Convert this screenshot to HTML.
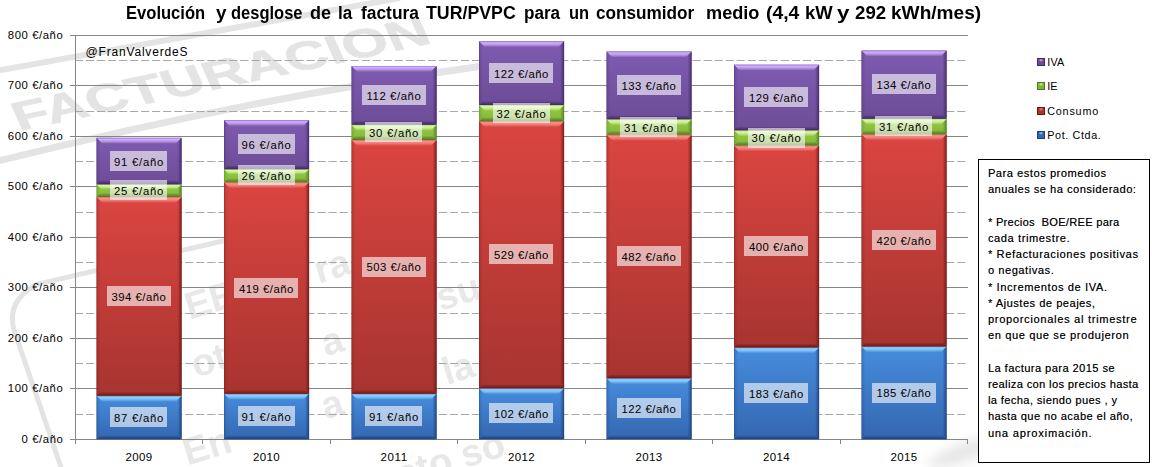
<!DOCTYPE html><html><head><meta charset="utf-8"><style>
*{margin:0;padding:0;box-sizing:border-box}
html,body{width:1152px;height:467px;overflow:hidden;background:#fff}
body{position:relative;font-family:"Liberation Sans",sans-serif;color:#000}
.a{position:absolute}
.t{position:absolute;white-space:pre;line-height:1}
.tb{text-shadow:0.3px 0 0 rgba(0,0,0,0.5)}
.lab{position:absolute;background:rgba(255,255,255,0.6);height:20px}
svg{position:absolute;left:0;top:0}
</style></head><body>
<svg width="1152" height="467" viewBox="0 0 1152 467" style="filter:blur(0.6px)">
<text x="0" y="0" textLength="424" lengthAdjust="spacingAndGlyphs" font-family="Liberation Sans" font-weight="bold" font-size="41" fill="#e4e4e4" stroke="#e4e4e4" stroke-width="0.6" transform="translate(19 131) rotate(-12) skewX(12)">FACTURACION</text>
<line x1="-10" y1="72" x2="400" y2="-2" stroke="#e4e4e4" stroke-width="6"/>
<path d="M -10 163 Q 250 98 490 65" fill="none" stroke="#e4e4e4" stroke-width="7"/>
<path d="M 62 470 L 14 330 Q 6 300 38 284 L 240 237" fill="none" stroke="#e4e4e4" stroke-width="5"/>
<text x="0" y="0" font-family="Liberation Sans" font-weight="bold" font-size="38" fill="#e8e8e8" text-anchor="middle" transform="translate(210 300) rotate(-17) translate(0 13)">EE</text>
<text x="0" y="0" font-family="Liberation Sans" font-weight="bold" font-size="38" fill="#e8e8e8" text-anchor="middle" transform="translate(209 360) rotate(-17) translate(0 13)">ot</text>
<text x="0" y="0" font-family="Liberation Sans" font-weight="bold" font-size="38" fill="#e8e8e8" text-anchor="middle" transform="translate(207 446) rotate(-17) translate(0 13)">En</text>
<text x="0" y="0" font-family="Liberation Sans" font-weight="bold" font-size="38" fill="#e8e8e8" text-anchor="middle" transform="translate(332 266) rotate(-17) translate(0 13)">ra</text>
<text x="0" y="0" font-family="Liberation Sans" font-weight="bold" font-size="38" fill="#e8e8e8" text-anchor="middle" transform="translate(332 341) rotate(-17) translate(0 13)">a</text>
<text x="0" y="0" font-family="Liberation Sans" font-weight="bold" font-size="38" fill="#e8e8e8" text-anchor="middle" transform="translate(332 404) rotate(-17) translate(0 13)">a</text>
<text x="0" y="0" font-family="Liberation Sans" font-weight="bold" font-size="38" fill="#e8e8e8" text-anchor="middle" transform="translate(440 462) rotate(-17) translate(0 13)">esto so</text>
<text x="0" y="0" font-family="Liberation Sans" font-weight="bold" font-size="38" fill="#e8e8e8" text-anchor="middle" transform="translate(458 292) rotate(-17) translate(0 13)">su</text>
<text x="0" y="0" font-family="Liberation Sans" font-weight="bold" font-size="38" fill="#e8e8e8" text-anchor="middle" transform="translate(458 368) rotate(-17) translate(0 13)">la</text>
</svg>
<svg width="1152" height="467" viewBox="0 0 1152 467" style="filter:blur(6px)"><ellipse cx="965" cy="452" rx="40" ry="9" fill="#e6e6e6" transform="rotate(-20 965 452)"/></svg>
<svg width="1152" height="467" viewBox="0 0 1152 467">
<defs>
<linearGradient id="g_blue" x1="0" y1="0" x2="0" y2="1"><stop offset="0" stop-color="#468ddd"/><stop offset="1" stop-color="#3466b0"/></linearGradient>
<linearGradient id="t_blue" x1="0" y1="0" x2="0" y2="1"><stop offset="0" stop-color="#5a9ae0" stop-opacity="1"/><stop offset="0.25" stop-color="#8ed0fc" stop-opacity="1"/><stop offset="0.55" stop-color="#8ed0fc" stop-opacity="0.75"/><stop offset="1" stop-color="#8ed0fc" stop-opacity="0"/></linearGradient>
<linearGradient id="b_blue" x1="0" y1="0" x2="0" y2="1"><stop offset="0" stop-color="#1e3f78" stop-opacity="0.0"/><stop offset="0.4" stop-color="#1e3f78" stop-opacity="0.45"/><stop offset="1" stop-color="#1e3f78" stop-opacity="1"/></linearGradient>
<linearGradient id="l_blue" x1="0" y1="0" x2="1" y2="0"><stop offset="0" stop-color="#1e3f78" stop-opacity="0.55"/><stop offset="0.3" stop-color="#1e3f78" stop-opacity="0.2"/><stop offset="1" stop-color="#1e3f78" stop-opacity="0.0"/></linearGradient>
<linearGradient id="r_blue" x1="1" y1="0" x2="0" y2="0"><stop offset="0" stop-color="#1e3f78" stop-opacity="0.95"/><stop offset="0.4" stop-color="#1e3f78" stop-opacity="0.5"/><stop offset="1" stop-color="#1e3f78" stop-opacity="0.0"/></linearGradient>
<linearGradient id="g_red" x1="0" y1="0" x2="0" y2="1"><stop offset="0" stop-color="#db4541"/><stop offset="1" stop-color="#a7342f"/></linearGradient>
<linearGradient id="t_red" x1="0" y1="0" x2="0" y2="1"><stop offset="0" stop-color="#e06060" stop-opacity="1"/><stop offset="0.25" stop-color="#f7908a" stop-opacity="1"/><stop offset="0.55" stop-color="#f7908a" stop-opacity="0.75"/><stop offset="1" stop-color="#f7908a" stop-opacity="0"/></linearGradient>
<linearGradient id="b_red" x1="0" y1="0" x2="0" y2="1"><stop offset="0" stop-color="#6e1818" stop-opacity="0.0"/><stop offset="0.4" stop-color="#6e1818" stop-opacity="0.45"/><stop offset="1" stop-color="#6e1818" stop-opacity="1"/></linearGradient>
<linearGradient id="l_red" x1="0" y1="0" x2="1" y2="0"><stop offset="0" stop-color="#6e1818" stop-opacity="0.55"/><stop offset="0.3" stop-color="#6e1818" stop-opacity="0.2"/><stop offset="1" stop-color="#6e1818" stop-opacity="0.0"/></linearGradient>
<linearGradient id="r_red" x1="1" y1="0" x2="0" y2="0"><stop offset="0" stop-color="#6e1818" stop-opacity="0.95"/><stop offset="0.4" stop-color="#6e1818" stop-opacity="0.5"/><stop offset="1" stop-color="#6e1818" stop-opacity="0.0"/></linearGradient>
<linearGradient id="g_green" x1="0" y1="0" x2="0" y2="1"><stop offset="0" stop-color="#98cc48"/><stop offset="1" stop-color="#84b43c"/></linearGradient>
<linearGradient id="t_green" x1="0" y1="0" x2="0" y2="1"><stop offset="0" stop-color="#a8d060" stop-opacity="1"/><stop offset="0.25" stop-color="#d8f8a0" stop-opacity="1"/><stop offset="0.55" stop-color="#d8f8a0" stop-opacity="0.75"/><stop offset="1" stop-color="#d8f8a0" stop-opacity="0"/></linearGradient>
<linearGradient id="b_green" x1="0" y1="0" x2="0" y2="1"><stop offset="0" stop-color="#4f7a1e" stop-opacity="0.0"/><stop offset="0.4" stop-color="#4f7a1e" stop-opacity="0.45"/><stop offset="1" stop-color="#4f7a1e" stop-opacity="1"/></linearGradient>
<linearGradient id="l_green" x1="0" y1="0" x2="1" y2="0"><stop offset="0" stop-color="#4f7a1e" stop-opacity="0.55"/><stop offset="0.3" stop-color="#4f7a1e" stop-opacity="0.2"/><stop offset="1" stop-color="#4f7a1e" stop-opacity="0.0"/></linearGradient>
<linearGradient id="r_green" x1="1" y1="0" x2="0" y2="0"><stop offset="0" stop-color="#4f7a1e" stop-opacity="0.95"/><stop offset="0.4" stop-color="#4f7a1e" stop-opacity="0.5"/><stop offset="1" stop-color="#4f7a1e" stop-opacity="0.0"/></linearGradient>
<linearGradient id="g_purple" x1="0" y1="0" x2="0" y2="1"><stop offset="0" stop-color="#7e5bb0"/><stop offset="1" stop-color="#6d4c97"/></linearGradient>
<linearGradient id="t_purple" x1="0" y1="0" x2="0" y2="1"><stop offset="0" stop-color="#9a7cc8" stop-opacity="1"/><stop offset="0.25" stop-color="#d0aefc" stop-opacity="1"/><stop offset="0.55" stop-color="#d0aefc" stop-opacity="0.75"/><stop offset="1" stop-color="#d0aefc" stop-opacity="0"/></linearGradient>
<linearGradient id="b_purple" x1="0" y1="0" x2="0" y2="1"><stop offset="0" stop-color="#3e2868" stop-opacity="0.0"/><stop offset="0.4" stop-color="#3e2868" stop-opacity="0.45"/><stop offset="1" stop-color="#3e2868" stop-opacity="1"/></linearGradient>
<linearGradient id="l_purple" x1="0" y1="0" x2="1" y2="0"><stop offset="0" stop-color="#3e2868" stop-opacity="0.55"/><stop offset="0.3" stop-color="#3e2868" stop-opacity="0.2"/><stop offset="1" stop-color="#3e2868" stop-opacity="0.0"/></linearGradient>
<linearGradient id="r_purple" x1="1" y1="0" x2="0" y2="0"><stop offset="0" stop-color="#3e2868" stop-opacity="0.95"/><stop offset="0.4" stop-color="#3e2868" stop-opacity="0.5"/><stop offset="1" stop-color="#3e2868" stop-opacity="0.0"/></linearGradient>
</defs>
<line x1="70" y1="439.5" x2="968" y2="439.5" stroke="#868686" stroke-width="1"/>
<line x1="70" y1="388.5" x2="968" y2="388.5" stroke="#868686" stroke-width="1"/>
<line x1="70" y1="338.5" x2="968" y2="338.5" stroke="#868686" stroke-width="1"/>
<line x1="70" y1="287.5" x2="968" y2="287.5" stroke="#868686" stroke-width="1"/>
<line x1="70" y1="237.5" x2="968" y2="237.5" stroke="#868686" stroke-width="1"/>
<line x1="70" y1="186.5" x2="968" y2="186.5" stroke="#868686" stroke-width="1"/>
<line x1="70" y1="136.5" x2="968" y2="136.5" stroke="#868686" stroke-width="1"/>
<line x1="70" y1="85.5" x2="968" y2="85.5" stroke="#868686" stroke-width="1"/>
<line x1="70" y1="35.5" x2="968" y2="35.5" stroke="#868686" stroke-width="1"/>
<line x1="76" y1="414.5" x2="968" y2="414.5" stroke="#a8a8a8" stroke-width="1" stroke-dasharray="8.2 2.83" stroke-dashoffset="1.13"/>
<line x1="76" y1="363.5" x2="968" y2="363.5" stroke="#a8a8a8" stroke-width="1" stroke-dasharray="8.2 2.83" stroke-dashoffset="1.13"/>
<line x1="76" y1="313.5" x2="968" y2="313.5" stroke="#a8a8a8" stroke-width="1" stroke-dasharray="8.2 2.83" stroke-dashoffset="1.13"/>
<line x1="76" y1="262.5" x2="968" y2="262.5" stroke="#a8a8a8" stroke-width="1" stroke-dasharray="8.2 2.83" stroke-dashoffset="1.13"/>
<line x1="76" y1="212.5" x2="968" y2="212.5" stroke="#a8a8a8" stroke-width="1" stroke-dasharray="8.2 2.83" stroke-dashoffset="1.13"/>
<line x1="76" y1="161.5" x2="968" y2="161.5" stroke="#a8a8a8" stroke-width="1" stroke-dasharray="8.2 2.83" stroke-dashoffset="1.13"/>
<line x1="76" y1="111.5" x2="968" y2="111.5" stroke="#a8a8a8" stroke-width="1" stroke-dasharray="8.2 2.83" stroke-dashoffset="1.13"/>
<line x1="76" y1="60.5" x2="968" y2="60.5" stroke="#a8a8a8" stroke-width="1" stroke-dasharray="8.2 2.83" stroke-dashoffset="1.13"/>
<line x1="75.5" y1="35" x2="75.5" y2="444" stroke="#868686" stroke-width="1"/>
<line x1="75.5" y1="439" x2="75.5" y2="444" stroke="#868686" stroke-width="1"/>
<line x1="202.5" y1="439" x2="202.5" y2="444" stroke="#868686" stroke-width="1"/>
<line x1="330.5" y1="439" x2="330.5" y2="444" stroke="#868686" stroke-width="1"/>
<line x1="457.5" y1="439" x2="457.5" y2="444" stroke="#868686" stroke-width="1"/>
<line x1="585.5" y1="439" x2="585.5" y2="444" stroke="#868686" stroke-width="1"/>
<line x1="712.5" y1="439" x2="712.5" y2="444" stroke="#868686" stroke-width="1"/>
<line x1="840.5" y1="439" x2="840.5" y2="444" stroke="#868686" stroke-width="1"/>
<line x1="967.5" y1="439" x2="967.5" y2="444" stroke="#868686" stroke-width="1"/>
<rect x="96.50" y="395.87" width="85.1" height="43.43" fill="url(#g_blue)"/>
<polygon points="96.50,395.87 181.60,395.87 175.60,401.87 102.50,401.87" fill="url(#t_blue)"/>
<polygon points="96.50,439.30 181.60,439.30 177.60,435.30 100.50,435.30" fill="url(#b_blue)"/>
<polygon points="96.50,395.87 100.50,399.87 100.50,435.30 96.50,439.30" fill="url(#l_blue)"/>
<polygon points="181.60,395.87 177.60,399.87 177.60,435.30 181.60,439.30" fill="url(#r_blue)"/>
<rect x="96.50" y="196.94" width="85.1" height="198.93" fill="url(#g_red)"/>
<polygon points="96.50,196.94 181.60,196.94 175.60,202.94 102.50,202.94" fill="url(#t_red)"/>
<polygon points="96.50,395.87 181.60,395.87 177.60,391.87 100.50,391.87" fill="url(#b_red)"/>
<polygon points="96.50,196.94 100.50,200.94 100.50,391.87 96.50,395.87" fill="url(#l_red)"/>
<polygon points="181.60,196.94 177.60,200.94 177.60,391.87 181.60,395.87" fill="url(#r_red)"/>
<rect x="96.50" y="184.32" width="85.1" height="12.62" fill="url(#g_green)"/>
<polygon points="96.50,184.32 181.60,184.32 176.55,189.37 101.55,189.37" fill="url(#t_green)"/>
<polygon points="96.50,196.94 181.60,196.94 177.60,192.94 100.50,192.94" fill="url(#b_green)"/>
<polygon points="96.50,184.32 100.50,188.32 100.50,192.94 96.50,196.94" fill="url(#l_green)"/>
<polygon points="181.60,184.32 177.60,188.32 177.60,192.94 181.60,196.94" fill="url(#r_green)"/>
<rect x="96.50" y="137.87" width="85.1" height="46.45" fill="url(#g_purple)"/>
<polygon points="96.50,137.87 181.60,137.87 175.60,143.87 102.50,143.87" fill="url(#t_purple)"/>
<polygon points="96.50,184.32 181.60,184.32 177.60,180.32 100.50,180.32" fill="url(#b_purple)"/>
<polygon points="96.50,137.87 100.50,141.87 100.50,180.32 96.50,184.32" fill="url(#l_purple)"/>
<polygon points="181.60,137.87 177.60,141.87 177.60,180.32 181.60,184.32" fill="url(#r_purple)"/>
<rect x="224.00" y="393.85" width="85.1" height="45.45" fill="url(#g_blue)"/>
<polygon points="224.00,393.85 309.10,393.85 303.10,399.85 230.00,399.85" fill="url(#t_blue)"/>
<polygon points="224.00,439.30 309.10,439.30 305.10,435.30 228.00,435.30" fill="url(#b_blue)"/>
<polygon points="224.00,393.85 228.00,397.85 228.00,435.30 224.00,439.30" fill="url(#l_blue)"/>
<polygon points="309.10,393.85 305.10,397.85 305.10,435.30 309.10,439.30" fill="url(#r_blue)"/>
<rect x="224.00" y="182.30" width="85.1" height="211.55" fill="url(#g_red)"/>
<polygon points="224.00,182.30 309.10,182.30 303.10,188.30 230.00,188.30" fill="url(#t_red)"/>
<polygon points="224.00,393.85 309.10,393.85 305.10,389.85 228.00,389.85" fill="url(#b_red)"/>
<polygon points="224.00,182.30 228.00,186.30 228.00,389.85 224.00,393.85" fill="url(#l_red)"/>
<polygon points="309.10,182.30 305.10,186.30 305.10,389.85 309.10,393.85" fill="url(#r_red)"/>
<rect x="224.00" y="169.17" width="85.1" height="13.13" fill="url(#g_green)"/>
<polygon points="224.00,169.17 309.10,169.17 303.85,174.42 229.25,174.42" fill="url(#t_green)"/>
<polygon points="224.00,182.30 309.10,182.30 305.10,178.30 228.00,178.30" fill="url(#b_green)"/>
<polygon points="224.00,169.17 228.00,173.17 228.00,178.30 224.00,182.30" fill="url(#l_green)"/>
<polygon points="309.10,169.17 305.10,173.17 305.10,178.30 309.10,182.30" fill="url(#r_green)"/>
<rect x="224.00" y="120.20" width="85.1" height="48.97" fill="url(#g_purple)"/>
<polygon points="224.00,120.20 309.10,120.20 303.10,126.20 230.00,126.20" fill="url(#t_purple)"/>
<polygon points="224.00,169.17 309.10,169.17 305.10,165.17 228.00,165.17" fill="url(#b_purple)"/>
<polygon points="224.00,120.20 228.00,124.20 228.00,165.17 224.00,169.17" fill="url(#l_purple)"/>
<polygon points="309.10,120.20 305.10,124.20 305.10,165.17 309.10,169.17" fill="url(#r_purple)"/>
<rect x="351.50" y="393.85" width="85.1" height="45.45" fill="url(#g_blue)"/>
<polygon points="351.50,393.85 436.60,393.85 430.60,399.85 357.50,399.85" fill="url(#t_blue)"/>
<polygon points="351.50,439.30 436.60,439.30 432.60,435.30 355.50,435.30" fill="url(#b_blue)"/>
<polygon points="351.50,393.85 355.50,397.85 355.50,435.30 351.50,439.30" fill="url(#l_blue)"/>
<polygon points="436.60,393.85 432.60,397.85 432.60,435.30 436.60,439.30" fill="url(#r_blue)"/>
<rect x="351.50" y="139.89" width="85.1" height="253.96" fill="url(#g_red)"/>
<polygon points="351.50,139.89 436.60,139.89 430.60,145.89 357.50,145.89" fill="url(#t_red)"/>
<polygon points="351.50,393.85 436.60,393.85 432.60,389.85 355.50,389.85" fill="url(#b_red)"/>
<polygon points="351.50,139.89 355.50,143.89 355.50,389.85 351.50,393.85" fill="url(#l_red)"/>
<polygon points="436.60,139.89 432.60,143.89 432.60,389.85 436.60,393.85" fill="url(#r_red)"/>
<rect x="351.50" y="124.74" width="85.1" height="15.15" fill="url(#g_green)"/>
<polygon points="351.50,124.74 436.60,124.74 430.60,130.74 357.50,130.74" fill="url(#t_green)"/>
<polygon points="351.50,139.89 436.60,139.89 432.60,135.89 355.50,135.89" fill="url(#b_green)"/>
<polygon points="351.50,124.74 355.50,128.74 355.50,135.89 351.50,139.89" fill="url(#l_green)"/>
<polygon points="436.60,124.74 432.60,128.74 432.60,135.89 436.60,139.89" fill="url(#r_green)"/>
<rect x="351.50" y="66.00" width="85.1" height="58.74" fill="url(#g_purple)"/>
<polygon points="351.50,66.00 436.60,66.00 430.60,72.00 357.50,72.00" fill="url(#t_purple)"/>
<polygon points="351.50,124.74 436.60,124.74 432.60,120.74 355.50,120.74" fill="url(#b_purple)"/>
<polygon points="351.50,66.00 355.50,70.00 355.50,120.74 351.50,124.74" fill="url(#l_purple)"/>
<polygon points="436.60,66.00 432.60,70.00 432.60,120.74 436.60,124.74" fill="url(#r_purple)"/>
<rect x="479.00" y="388.30" width="85.1" height="51.00" fill="url(#g_blue)"/>
<polygon points="479.00,388.30 564.10,388.30 558.10,394.30 485.00,394.30" fill="url(#t_blue)"/>
<polygon points="479.00,439.30 564.10,439.30 560.10,435.30 483.00,435.30" fill="url(#b_blue)"/>
<polygon points="479.00,388.30 483.00,392.30 483.00,435.30 479.00,439.30" fill="url(#l_blue)"/>
<polygon points="564.10,388.30 560.10,392.30 560.10,435.30 564.10,439.30" fill="url(#r_blue)"/>
<rect x="479.00" y="121.21" width="85.1" height="267.09" fill="url(#g_red)"/>
<polygon points="479.00,121.21 564.10,121.21 558.10,127.21 485.00,127.21" fill="url(#t_red)"/>
<polygon points="479.00,388.30 564.10,388.30 560.10,384.30 483.00,384.30" fill="url(#b_red)"/>
<polygon points="479.00,121.21 483.00,125.21 483.00,384.30 479.00,388.30" fill="url(#l_red)"/>
<polygon points="564.10,121.21 560.10,125.21 560.10,384.30 564.10,388.30" fill="url(#r_red)"/>
<rect x="479.00" y="105.05" width="85.1" height="16.16" fill="url(#g_green)"/>
<polygon points="479.00,105.05 564.10,105.05 558.10,111.05 485.00,111.05" fill="url(#t_green)"/>
<polygon points="479.00,121.21 564.10,121.21 560.10,117.21 483.00,117.21" fill="url(#b_green)"/>
<polygon points="479.00,105.05 483.00,109.05 483.00,117.21 479.00,121.21" fill="url(#l_green)"/>
<polygon points="564.10,105.05 560.10,109.05 560.10,117.21 564.10,121.21" fill="url(#r_green)"/>
<rect x="479.00" y="41.30" width="85.1" height="63.75" fill="url(#g_purple)"/>
<polygon points="479.00,41.30 564.10,41.30 558.10,47.30 485.00,47.30" fill="url(#t_purple)"/>
<polygon points="479.00,105.05 564.10,105.05 560.10,101.05 483.00,101.05" fill="url(#b_purple)"/>
<polygon points="479.00,41.30 483.00,45.30 483.00,101.05 479.00,105.05" fill="url(#l_purple)"/>
<polygon points="564.10,41.30 560.10,45.30 560.10,101.05 564.10,105.05" fill="url(#r_purple)"/>
<rect x="606.50" y="378.20" width="85.1" height="61.10" fill="url(#g_blue)"/>
<polygon points="606.50,378.20 691.60,378.20 685.60,384.20 612.50,384.20" fill="url(#t_blue)"/>
<polygon points="606.50,439.30 691.60,439.30 687.60,435.30 610.50,435.30" fill="url(#b_blue)"/>
<polygon points="606.50,378.20 610.50,382.20 610.50,435.30 606.50,439.30" fill="url(#l_blue)"/>
<polygon points="691.60,378.20 687.60,382.20 687.60,435.30 691.60,439.30" fill="url(#r_blue)"/>
<rect x="606.50" y="134.84" width="85.1" height="243.36" fill="url(#g_red)"/>
<polygon points="606.50,134.84 691.60,134.84 685.60,140.84 612.50,140.84" fill="url(#t_red)"/>
<polygon points="606.50,378.20 691.60,378.20 687.60,374.20 610.50,374.20" fill="url(#b_red)"/>
<polygon points="606.50,134.84 610.50,138.84 610.50,374.20 606.50,378.20" fill="url(#l_red)"/>
<polygon points="691.60,134.84 687.60,138.84 687.60,374.20 691.60,378.20" fill="url(#r_red)"/>
<rect x="606.50" y="119.19" width="85.1" height="15.65" fill="url(#g_green)"/>
<polygon points="606.50,119.19 691.60,119.19 685.60,125.19 612.50,125.19" fill="url(#t_green)"/>
<polygon points="606.50,134.84 691.60,134.84 687.60,130.84 610.50,130.84" fill="url(#b_green)"/>
<polygon points="606.50,119.19 610.50,123.19 610.50,130.84 606.50,134.84" fill="url(#l_green)"/>
<polygon points="691.60,119.19 687.60,123.19 687.60,130.84 691.60,134.84" fill="url(#r_green)"/>
<rect x="606.50" y="51.54" width="85.1" height="67.65" fill="url(#g_purple)"/>
<polygon points="606.50,51.54 691.60,51.54 685.60,57.54 612.50,57.54" fill="url(#t_purple)"/>
<polygon points="606.50,119.19 691.60,119.19 687.60,115.19 610.50,115.19" fill="url(#b_purple)"/>
<polygon points="606.50,51.54 610.50,55.54 610.50,115.19 606.50,119.19" fill="url(#l_purple)"/>
<polygon points="691.60,51.54 687.60,55.54 687.60,115.19 691.60,119.19" fill="url(#r_purple)"/>
<rect x="734.00" y="347.40" width="85.1" height="91.90" fill="url(#g_blue)"/>
<polygon points="734.00,347.40 819.10,347.40 813.10,353.40 740.00,353.40" fill="url(#t_blue)"/>
<polygon points="734.00,439.30 819.10,439.30 815.10,435.30 738.00,435.30" fill="url(#b_blue)"/>
<polygon points="734.00,347.40 738.00,351.40 738.00,435.30 734.00,439.30" fill="url(#l_blue)"/>
<polygon points="819.10,347.40 815.10,351.40 815.10,435.30 819.10,439.30" fill="url(#r_blue)"/>
<rect x="734.00" y="145.44" width="85.1" height="201.96" fill="url(#g_red)"/>
<polygon points="734.00,145.44 819.10,145.44 813.10,151.44 740.00,151.44" fill="url(#t_red)"/>
<polygon points="734.00,347.40 819.10,347.40 815.10,343.40 738.00,343.40" fill="url(#b_red)"/>
<polygon points="734.00,145.44 738.00,149.44 738.00,343.40 734.00,347.40" fill="url(#l_red)"/>
<polygon points="819.10,145.44 815.10,149.44 815.10,343.40 819.10,347.40" fill="url(#r_red)"/>
<rect x="734.00" y="130.30" width="85.1" height="15.15" fill="url(#g_green)"/>
<polygon points="734.00,130.30 819.10,130.30 813.10,136.30 740.00,136.30" fill="url(#t_green)"/>
<polygon points="734.00,145.44 819.10,145.44 815.10,141.44 738.00,141.44" fill="url(#b_green)"/>
<polygon points="734.00,130.30 738.00,134.30 738.00,141.44 734.00,145.44" fill="url(#l_green)"/>
<polygon points="819.10,130.30 815.10,134.30 815.10,141.44 819.10,145.44" fill="url(#r_green)"/>
<rect x="734.00" y="64.66" width="85.1" height="65.63" fill="url(#g_purple)"/>
<polygon points="734.00,64.66 819.10,64.66 813.10,70.66 740.00,70.66" fill="url(#t_purple)"/>
<polygon points="734.00,130.30 819.10,130.30 815.10,126.30 738.00,126.30" fill="url(#b_purple)"/>
<polygon points="734.00,64.66 738.00,68.66 738.00,126.30 734.00,130.30" fill="url(#l_purple)"/>
<polygon points="819.10,64.66 815.10,68.66 815.10,126.30 819.10,130.30" fill="url(#r_purple)"/>
<rect x="861.50" y="346.39" width="85.1" height="92.91" fill="url(#g_blue)"/>
<polygon points="861.50,346.39 946.60,346.39 940.60,352.39 867.50,352.39" fill="url(#t_blue)"/>
<polygon points="861.50,439.30 946.60,439.30 942.60,435.30 865.50,435.30" fill="url(#b_blue)"/>
<polygon points="861.50,346.39 865.50,350.39 865.50,435.30 861.50,439.30" fill="url(#l_blue)"/>
<polygon points="946.60,346.39 942.60,350.39 942.60,435.30 946.60,439.30" fill="url(#r_blue)"/>
<rect x="861.50" y="134.34" width="85.1" height="212.06" fill="url(#g_red)"/>
<polygon points="861.50,134.34 946.60,134.34 940.60,140.34 867.50,140.34" fill="url(#t_red)"/>
<polygon points="861.50,346.39 946.60,346.39 942.60,342.39 865.50,342.39" fill="url(#b_red)"/>
<polygon points="861.50,134.34 865.50,138.34 865.50,342.39 861.50,346.39" fill="url(#l_red)"/>
<polygon points="946.60,134.34 942.60,138.34 942.60,342.39 946.60,346.39" fill="url(#r_red)"/>
<rect x="861.50" y="118.68" width="85.1" height="15.65" fill="url(#g_green)"/>
<polygon points="861.50,118.68 946.60,118.68 940.60,124.68 867.50,124.68" fill="url(#t_green)"/>
<polygon points="861.50,134.34 946.60,134.34 942.60,130.34 865.50,130.34" fill="url(#b_green)"/>
<polygon points="861.50,118.68 865.50,122.68 865.50,130.34 861.50,134.34" fill="url(#l_green)"/>
<polygon points="946.60,118.68 942.60,122.68 942.60,130.34 946.60,134.34" fill="url(#r_green)"/>
<rect x="861.50" y="50.53" width="85.1" height="68.16" fill="url(#g_purple)"/>
<polygon points="861.50,50.53 946.60,50.53 940.60,56.53 867.50,56.53" fill="url(#t_purple)"/>
<polygon points="861.50,118.68 946.60,118.68 942.60,114.68 865.50,114.68" fill="url(#b_purple)"/>
<polygon points="861.50,50.53 865.50,54.53 865.50,114.68 861.50,118.68" fill="url(#l_purple)"/>
<polygon points="946.60,50.53 942.60,54.53 942.60,114.68 946.60,118.68" fill="url(#r_purple)"/>
</svg>
<div class="lab" style="left:110.15px;top:407.24px;width:57px"></div>
<div class="t" style="left:114.05px;top:412.70px;font-size:11.3px;letter-spacing:0.745px;">87 €/año</div>
<div class="lab" style="left:106.65px;top:286.06px;width:64px"></div>
<div class="t" style="left:111.50px;top:291.70px;font-size:11.3px;letter-spacing:0.504px;">394 €/año</div>
<div class="lab" style="left:110.15px;top:180.28px;width:57px"></div>
<div class="t" style="left:114.05px;top:185.70px;font-size:11.3px;letter-spacing:0.745px;">25 €/año</div>
<div class="lab" style="left:110.15px;top:150.75px;width:57px"></div>
<div class="t" style="left:114.05px;top:156.70px;font-size:11.3px;letter-spacing:0.745px;">91 €/año</div>
<div class="lab" style="left:237.65px;top:406.23px;width:57px"></div>
<div class="t" style="left:241.55px;top:411.70px;font-size:11.3px;letter-spacing:0.745px;">91 €/año</div>
<div class="lab" style="left:234.15px;top:277.73px;width:64px"></div>
<div class="t" style="left:239.00px;top:283.70px;font-size:11.3px;letter-spacing:0.504px;">419 €/año</div>
<div class="lab" style="left:237.65px;top:165.39px;width:57px"></div>
<div class="t" style="left:241.55px;top:170.70px;font-size:11.3px;letter-spacing:0.745px;">26 €/año</div>
<div class="lab" style="left:237.65px;top:134.34px;width:57px"></div>
<div class="t" style="left:241.55px;top:139.70px;font-size:11.3px;letter-spacing:0.745px;">96 €/año</div>
<div class="lab" style="left:365.15px;top:406.23px;width:57px"></div>
<div class="t" style="left:369.05px;top:411.70px;font-size:11.3px;letter-spacing:0.745px;">91 €/año</div>
<div class="lab" style="left:361.65px;top:256.52px;width:64px"></div>
<div class="t" style="left:366.50px;top:261.70px;font-size:11.3px;letter-spacing:0.504px;">503 €/año</div>
<div class="lab" style="left:365.15px;top:121.97px;width:57px"></div>
<div class="t" style="left:369.05px;top:127.70px;font-size:11.3px;letter-spacing:0.745px;">30 €/año</div>
<div class="lab" style="left:361.65px;top:85.02px;width:64px"></div>
<div class="t" style="left:366.50px;top:90.70px;font-size:11.3px;letter-spacing:0.608px;">112 €/año</div>
<div class="lab" style="left:489.15px;top:403.45px;width:64px"></div>
<div class="t" style="left:494.00px;top:408.70px;font-size:11.3px;letter-spacing:0.504px;">102 €/año</div>
<div class="lab" style="left:489.15px;top:244.40px;width:64px"></div>
<div class="t" style="left:494.00px;top:249.70px;font-size:11.3px;letter-spacing:0.504px;">529 €/año</div>
<div class="lab" style="left:492.65px;top:102.78px;width:57px"></div>
<div class="t" style="left:496.55px;top:108.70px;font-size:11.3px;letter-spacing:0.745px;">32 €/año</div>
<div class="lab" style="left:489.15px;top:62.83px;width:64px"></div>
<div class="t" style="left:494.00px;top:68.70px;font-size:11.3px;letter-spacing:0.504px;">122 €/año</div>
<div class="lab" style="left:616.65px;top:398.40px;width:64px"></div>
<div class="t" style="left:621.50px;top:403.70px;font-size:11.3px;letter-spacing:0.504px;">122 €/año</div>
<div class="lab" style="left:616.65px;top:246.17px;width:64px"></div>
<div class="t" style="left:621.50px;top:251.70px;font-size:11.3px;letter-spacing:0.504px;">482 €/año</div>
<div class="lab" style="left:620.15px;top:116.66px;width:57px"></div>
<div class="t" style="left:624.05px;top:122.70px;font-size:11.3px;letter-spacing:0.745px;">31 €/año</div>
<div class="lab" style="left:616.65px;top:75.01px;width:64px"></div>
<div class="t" style="left:621.50px;top:80.70px;font-size:11.3px;letter-spacing:0.504px;">133 €/año</div>
<div class="lab" style="left:744.15px;top:383.00px;width:64px"></div>
<div class="t" style="left:749.00px;top:388.70px;font-size:11.3px;letter-spacing:0.504px;">183 €/año</div>
<div class="lab" style="left:744.15px;top:236.07px;width:64px"></div>
<div class="t" style="left:749.00px;top:241.70px;font-size:11.3px;letter-spacing:0.504px;">400 €/año</div>
<div class="lab" style="left:747.65px;top:127.52px;width:57px"></div>
<div class="t" style="left:751.55px;top:132.70px;font-size:11.3px;letter-spacing:0.745px;">30 €/año</div>
<div class="lab" style="left:744.15px;top:87.13px;width:64px"></div>
<div class="t" style="left:749.00px;top:92.70px;font-size:11.3px;letter-spacing:0.504px;">129 €/año</div>
<div class="lab" style="left:871.65px;top:382.50px;width:64px"></div>
<div class="t" style="left:876.50px;top:387.70px;font-size:11.3px;letter-spacing:0.504px;">185 €/año</div>
<div class="lab" style="left:871.65px;top:230.01px;width:64px"></div>
<div class="t" style="left:876.50px;top:235.70px;font-size:11.3px;letter-spacing:0.504px;">420 €/año</div>
<div class="lab" style="left:875.15px;top:116.16px;width:57px"></div>
<div class="t" style="left:879.05px;top:121.70px;font-size:11.3px;letter-spacing:0.745px;">31 €/año</div>
<div class="lab" style="left:871.65px;top:74.26px;width:64px"></div>
<div class="t" style="left:876.50px;top:79.70px;font-size:11.3px;letter-spacing:0.504px;">134 €/año</div>
<div class="t" style="left:21.55px;top:433.70px;font-size:11.3px;letter-spacing:0.592px;">0 €/año</div>
<div class="t" style="left:7.79px;top:382.70px;font-size:11.3px;letter-spacing:0.592px;">100 €/año</div>
<div class="t" style="left:7.79px;top:332.70px;font-size:11.3px;letter-spacing:0.592px;">200 €/año</div>
<div class="t" style="left:7.79px;top:281.70px;font-size:11.3px;letter-spacing:0.592px;">300 €/año</div>
<div class="t" style="left:7.79px;top:231.70px;font-size:11.3px;letter-spacing:0.592px;">400 €/año</div>
<div class="t" style="left:7.79px;top:180.70px;font-size:11.3px;letter-spacing:0.592px;">500 €/año</div>
<div class="t" style="left:7.79px;top:130.70px;font-size:11.3px;letter-spacing:0.592px;">600 €/año</div>
<div class="t" style="left:7.79px;top:79.70px;font-size:11.3px;letter-spacing:0.592px;">700 €/año</div>
<div class="t" style="left:7.79px;top:29.70px;font-size:11.3px;letter-spacing:0.592px;">800 €/año</div>
<div class="t" style="left:125.55px;top:451.60px;font-size:11.5px;letter-spacing:0.339px;">2009</div>
<div class="t" style="left:253.05px;top:451.60px;font-size:11.5px;letter-spacing:0.339px;">2010</div>
<div class="t" style="left:380.55px;top:451.60px;font-size:11.5px;letter-spacing:0.623px;">2011</div>
<div class="t" style="left:508.05px;top:451.60px;font-size:11.5px;letter-spacing:0.339px;">2012</div>
<div class="t" style="left:635.55px;top:451.60px;font-size:11.5px;letter-spacing:0.339px;">2013</div>
<div class="t" style="left:763.05px;top:451.60px;font-size:11.5px;letter-spacing:0.339px;">2014</div>
<div class="t" style="left:890.55px;top:451.60px;font-size:11.5px;letter-spacing:0.339px;">2015</div>
<div class="t" style="left:125.70px;top:3.70px;font-size:18.3px;transform:scaleX(0.9066);transform-origin:0 0;font-weight:bold;">Evolución</div>
<div class="t" style="left:215.50px;top:3.70px;font-size:18.3px;transform:scaleX(1.0338);transform-origin:0 0;font-weight:bold;">y</div>
<div class="t" style="left:230.80px;top:3.70px;font-size:18.3px;transform:scaleX(0.9026);transform-origin:0 0;font-weight:bold;">desglose</div>
<div class="t" style="left:310.00px;top:3.70px;font-size:18.3px;transform:scaleX(0.9850);transform-origin:0 0;font-weight:bold;">de</div>
<div class="t" style="left:337.60px;top:3.70px;font-size:18.3px;transform:scaleX(0.9312);transform-origin:0 0;font-weight:bold;">la</div>
<div class="t" style="left:360.60px;top:3.70px;font-size:18.3px;transform:scaleX(0.9508);transform-origin:0 0;font-weight:bold;">factura</div>
<div class="t" style="left:426.40px;top:3.70px;font-size:18.3px;transform:scaleX(0.9707);transform-origin:0 0;font-weight:bold;">TUR/PVPC</div>
<div class="t" style="left:523.80px;top:3.70px;font-size:18.3px;transform:scaleX(0.9357);transform-origin:0 0;font-weight:bold;">para</div>
<div class="t" style="left:568.70px;top:3.70px;font-size:18.3px;transform:scaleX(0.9003);transform-origin:0 0;font-weight:bold;">un</div>
<div class="t" style="left:596.40px;top:3.70px;font-size:18.3px;transform:scaleX(0.9392);transform-origin:0 0;font-weight:bold;">consumidor</div>
<div class="t" style="left:705.70px;top:3.70px;font-size:18.3px;transform:scaleX(0.9927);transform-origin:0 0;font-weight:bold;">medio</div>
<div class="t" style="left:765.90px;top:3.70px;font-size:18.3px;transform:scaleX(1.0581);transform-origin:0 0;font-weight:bold;">(4,4</div>
<div class="t" style="left:805.00px;top:3.70px;font-size:18.3px;transform:scaleX(1.0091);transform-origin:0 0;font-weight:bold;">kW</div>
<div class="t" style="left:836.60px;top:3.70px;font-size:18.3px;transform:scaleX(1.2209);transform-origin:0 0;font-weight:bold;">y</div>
<div class="t" style="left:854.60px;top:3.70px;font-size:18.3px;transform:scaleX(1.0209);transform-origin:0 0;font-weight:bold;">292</div>
<div class="t" style="left:891.40px;top:3.70px;font-size:18.3px;transform:scaleX(1.0443);transform-origin:0 0;font-weight:bold;">kWh/mes)</div>
<div class="t" style="left:85.50px;top:46.35px;font-size:12px;letter-spacing:0.820px;">@FranValverdeS</div>
<div class="a" style="left:1037px;top:58px;width:8px;height:8px;border:1px solid #3e2868;background:radial-gradient(ellipse 2.5px 2px at 50% 20%,#d0aefc,#6d4c97 90%)"></div>
<div class="t" style="left:1047.20px;top:56.95px;font-size:10.8px;letter-spacing:0.197px;">IVA</div>
<div class="a" style="left:1037px;top:82px;width:8px;height:8px;border:1px solid #4f7a1e;background:radial-gradient(ellipse 2.5px 2px at 50% 20%,#d8f8a0,#84b43c 90%)"></div>
<div class="t" style="left:1047.20px;top:80.95px;font-size:10.8px;">IE</div>
<div class="a" style="left:1037px;top:107px;width:8px;height:8px;border:1px solid #6e1818;background:radial-gradient(ellipse 2.5px 2px at 50% 20%,#f7908a,#a7342f 90%)"></div>
<div class="t" style="left:1047.20px;top:105.95px;font-size:10.8px;letter-spacing:0.796px;">Consumo</div>
<div class="a" style="left:1037px;top:131px;width:8px;height:8px;border:1px solid #1e3f78;background:radial-gradient(ellipse 2.5px 2px at 50% 20%,#8ed0fc,#3466b0 90%)"></div>
<div class="t" style="left:1047.20px;top:129.95px;font-size:10.8px;letter-spacing:0.619px;">Pot. Ctda.</div>
<div class="a" style="left:978px;top:159px;width:172px;height:304px;border:1px solid #000;background:#fff"></div>
<div class="t tb" style="left:987.90px;top:167.85px;font-size:11px;letter-spacing:0.579px;">Para estos promedios</div>
<div class="t tb" style="left:987.90px;top:183.85px;font-size:11px;letter-spacing:0.538px;">anuales se ha considerado:</div>
<div class="t tb" style="left:987.90px;top:216.85px;font-size:11px;letter-spacing:0.327px;">* Precios  BOE/REE para</div>
<div class="t tb" style="left:987.90px;top:232.85px;font-size:11px;letter-spacing:0.632px;">cada trimestre.</div>
<div class="t tb" style="left:987.90px;top:248.85px;font-size:11px;letter-spacing:0.666px;">* Refacturaciones positivas</div>
<div class="t tb" style="left:987.90px;top:264.85px;font-size:11px;letter-spacing:0.589px;">o negativas.</div>
<div class="t tb" style="left:987.90px;top:281.85px;font-size:11px;letter-spacing:0.641px;">* Incrementos de IVA.</div>
<div class="t tb" style="left:987.90px;top:297.85px;font-size:11px;letter-spacing:0.546px;">* Ajustes de peajes,</div>
<div class="t tb" style="left:987.90px;top:313.85px;font-size:11px;letter-spacing:0.734px;">proporcionales al trimestre</div>
<div class="t tb" style="left:987.90px;top:329.85px;font-size:11px;letter-spacing:0.662px;">en que que se produjeron</div>
<div class="t tb" style="left:987.90px;top:362.85px;font-size:11px;letter-spacing:0.473px;">La factura para 2015 se</div>
<div class="t tb" style="left:987.90px;top:378.85px;font-size:11px;letter-spacing:0.411px;">realiza con los precios hasta</div>
<div class="t tb" style="left:987.90px;top:394.85px;font-size:11px;letter-spacing:0.432px;">la fecha, siendo pues , y</div>
<div class="t tb" style="left:987.90px;top:410.85px;font-size:11px;letter-spacing:0.475px;">hasta que no acabe el año,</div>
<div class="t tb" style="left:987.90px;top:427.85px;font-size:11px;letter-spacing:0.863px;">una aproximación.</div>
</body></html>
